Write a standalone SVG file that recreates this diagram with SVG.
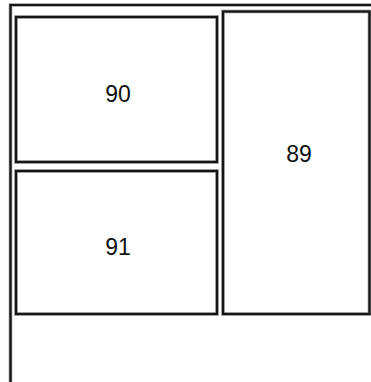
<svg xmlns="http://www.w3.org/2000/svg" width="371" height="382" viewBox="0 0 371 382">
<style>
.h{fill:none;stroke:#9a9a9a;stroke-width:3.6}
.b{fill:none;stroke:#151515;stroke-width:2.2}
text{font-family:"Liberation Sans",Arial,sans-serif;font-size:23px;fill:#111;text-anchor:middle}
</style>
<rect width="371" height="382" fill="#fff"/>
<g id="frame">
<path class="h" d="M10.5 390V5H380"/>
<path class="b" d="M10.5 390V5H380"/>
</g>
<g id="n90">
<rect class="h" x="16" y="17" width="201" height="145"/>
<rect class="b" x="16" y="17" width="201" height="145"/>
<text x="118" y="102">90</text>
</g>
<g id="n91">
<rect class="h" x="16" y="171" width="201" height="143"/>
<rect class="b" x="16" y="171" width="201" height="143"/>
<text x="118" y="255">91</text>
</g>
<g id="n89">
<rect class="h" x="223" y="11.5" width="146.5" height="302.5"/>
<rect class="b" x="223" y="11.5" width="146.5" height="302.5"/>
<text x="299" y="162">89</text>
</g>
<g id="connectors"/>
</svg>
